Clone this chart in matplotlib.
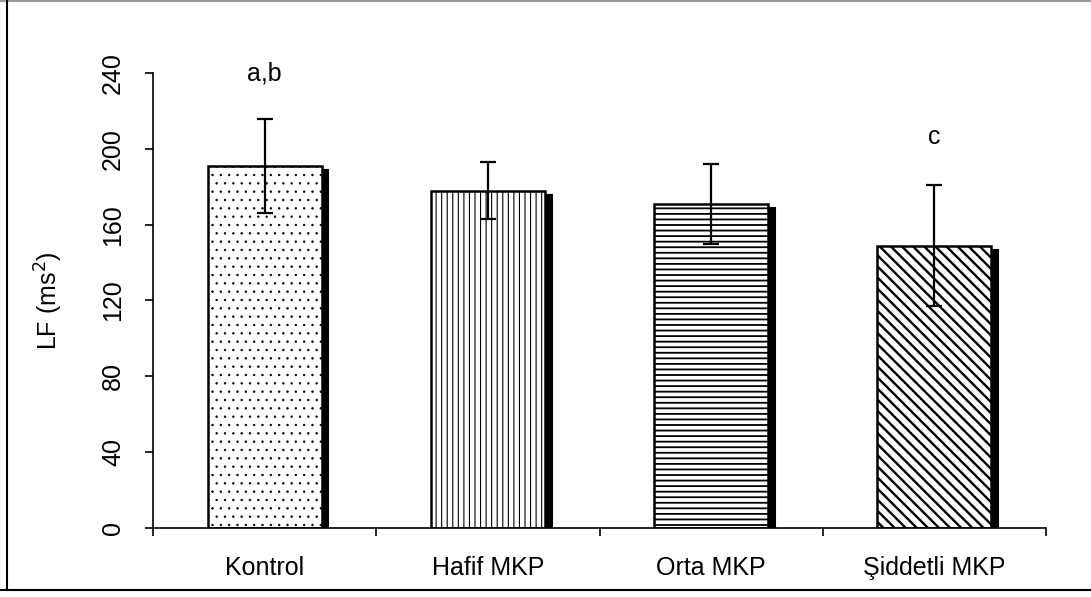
import numpy as np
import matplotlib
matplotlib.use('Agg')
import matplotlib.pyplot as plt
from matplotlib.lines import Line2D

plt.rcParams['font.family'] = ['Liberation Sans', 'DejaVu Sans']

# data
groups = ['Kontrol', 'Hafif MKP', 'Orta MKP', 'Şiddetli MKP']
means = [191, 178, 171, 149]
errs = [25, 15, 21, 32]
hatches = ['..', '|||', '---', chr(92) * 3]
hatch_lw = [0.5, 0.8, 1.3, 1.7]
letters = ['a,b', '', '', 'c']
letter_y = [240, 0, 0, 206]
yticks = [0, 40, 80, 120, 160, 200, 240]

fig = plt.figure(figsize=(10.91, 5.97), dpi=100)
ax = fig.add_axes([0.1402, 0.1156, 0.8186, 0.7621])

x = np.arange(len(groups)) + 0.5
width = 0.51
dx = 0.031   # shadow offset, data units
dy = 2.1

# shadows
for xi, m in zip(x, means):
    ax.bar(xi + dx, m - dy, width=width, color='black', edgecolor='black',
           linewidth=1.5, zorder=1)

# bars (hatch linewidth is picked up when the patch is made)
for xi, m, h, hl in zip(x, means, hatches, hatch_lw):
    with plt.rc_context({'hatch.linewidth': hl}):
        ax.bar(xi, m, width=width, color='white', edgecolor='black',
               hatch=h, linewidth=1.8, zorder=2)

ax.errorbar(x, means, yerr=errs, fmt='none', ecolor='black', elinewidth=1.6,
            capsize=5.5, capthick=1.6, zorder=3)

for xi, t, ly in zip(x, letters, letter_y):
    if t:
        ax.text(xi, ly, t, ha='center', va='center', fontsize=18)

ax.set_xlim(0, 4)
ax.set_ylim(0, 240)
ax.set_yticks(yticks)
ax.set_yticklabels([str(v) for v in yticks], rotation=90, va='center', fontsize=18)
ax.tick_params(axis='y', length=6, width=1.2, pad=14)

ax.set_xticks(x)
ax.set_xticklabels(groups, fontsize=18)
ax.set_xticks(np.arange(0, 5), minor=True)
ax.tick_params(axis='x', which='major', length=0, pad=20)
ax.tick_params(axis='x', which='minor', length=6, width=1.2)

ax.spines['top'].set_visible(False)
ax.spines['right'].set_visible(False)
ax.spines['left'].set_linewidth(1.2)
ax.spines['bottom'].set_linewidth(1.2)

ax.set_ylabel('LF (ms$^2$)', fontsize=18)
ax.yaxis.set_label_coords(-0.098, 0.5)

# outer frame
fig.add_artist(Line2D([0.0, 1.0], [0.999, 0.999], color='#999999', lw=1.5))
fig.add_artist(Line2D([0.0065, 0.0065], [0.011, 1.0], color='black', lw=1.5))
fig.add_artist(Line2D([0.0, 1.0], [0.011, 0.011], color='black', lw=1.5))

fig.savefig('out.png', dpi=100)
